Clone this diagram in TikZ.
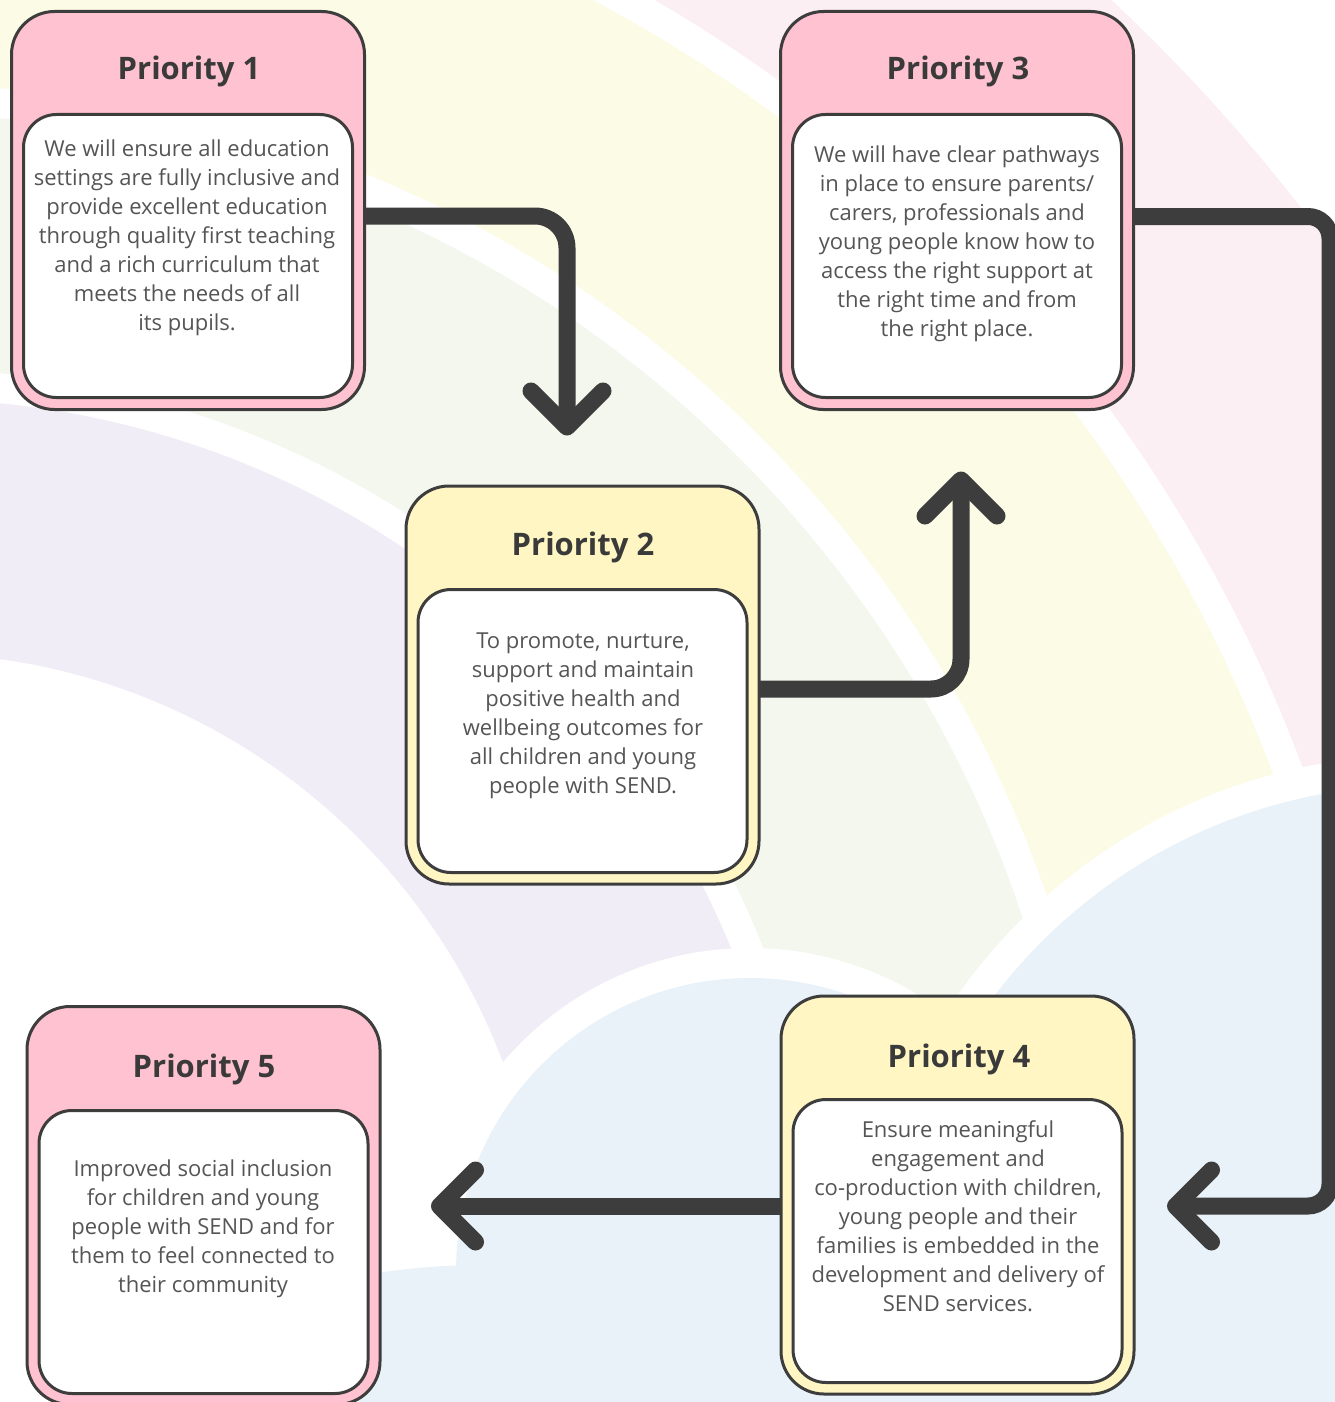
\documentclass[tikz,border=0pt]{standalone}
\usepackage{fontspec}
\setmainfont{Open Sans}
\usetikzlibrary{calc}
\definecolor{ink}{HTML}{3D3D3D}
\definecolor{titlec}{HTML}{3A3A3A}
\definecolor{bodyc}{HTML}{555555}
\definecolor{pinkbox}{HTML}{FFC2D0}
\definecolor{yellowbox}{HTML}{FFF6C3}
\definecolor{bandpink}{HTML}{FCEFF4}
\definecolor{bandyellow}{HTML}{FCFBE6}
\definecolor{bandgreen}{HTML}{F4F7EE}
\definecolor{bandpurple}{HTML}{F1EDF7}
\definecolor{cloudblue}{HTML}{EAF2F9}
\begin{document}
\begin{tikzpicture}[x=1pt,y=-1pt,
  outerbox/.style={draw=ink, line width=3pt, rounded corners=43pt, minimum width=353pt, minimum height=398pt, inner sep=0pt, outer sep=0pt},
  innerbox/.style={draw=ink, fill=white, line width=3pt, rounded corners=33pt, minimum width=329pt, minimum height=283pt, inner sep=0pt, outer sep=0pt},
  ptitle/.style={font=\bfseries\fontsize{31}{37}\selectfont, text=titlec, anchor=base, inner sep=0pt},
  ptext/.style={font=\fontsize{22}{29}\selectfont, text=bodyc, align=center, inner sep=0pt},
  conn/.style={draw=ink, line width=17pt},
  tipline/.style={draw=ink, line width=17pt, line cap=round, line join=round},
]
\useasboundingbox (0,0) rectangle (1335,1402);
% background rainbow and cloud
\begin{scope}
\clip (0,0) rectangle (1335,1402);
\fill[white] (0,0) rectangle (1335,1402);
\coordinate (rc) at (-88,1284);
\fill[bandpink, even odd rule] (rc) circle[radius=1757pt] circle[radius=1483pt];
\fill[bandyellow, even odd rule] (rc) circle[radius=1453pt] circle[radius=1199pt];
\fill[bandgreen, even odd rule] (rc) circle[radius=1169pt] circle[radius=915pt];
\fill[bandpurple, even odd rule] (rc) circle[radius=885pt] circle[radius=631pt];
\fill[white] (750,1272) circle[radius=324pt] (1420,1320) circle[radius=565pt] (483,1965) circle[radius=730pt];
\fill[cloudblue] (750,1272) circle[radius=294pt] (1420,1320) circle[radius=535pt] (483,1965) circle[radius=700pt];
\end{scope}

% boxes
\node[outerbox, fill=pinkbox] (b1) at (188,210.5) {};
\node[innerbox] (b1in) at (188,256) {};
\node[ptitle] (b1t) at (189,80) {Priority 1};
\node[ptext] (b1x) at (187,238) {We will ensure all education\\settings are fully inclusive and\\provide excellent education\\through quality first teaching\\and a rich curriculum that\\meets the needs of all\\its pupils.};

\node[outerbox, fill=pinkbox] (b3) at (957,210.5) {};
\node[innerbox] (b3in) at (957,256) {};
\node[ptitle] (b3t) at (958,80) {Priority 3};
\node[ptext] (b3x) at (957,244) {We will have clear pathways\\in place to ensure parents/\\carers, professionals and\\young people know how to\\access the right support at\\the right time and from\\the right place.};

\node[outerbox, fill=yellowbox] (b2) at (582.5,685) {};
\node[innerbox] (b2in) at (582.5,731) {};
\node[ptitle] (b2t) at (583,555) {Priority 2};
\node[ptext] (b2x) at (583,716) {To promote, nurture,\\support and maintain\\positive health and\\wellbeing outcomes for\\all children and young\\people with SEND.};

\node[outerbox, fill=yellowbox] (b4) at (957.5,1195) {};
\node[innerbox] (b4in) at (957.5,1241) {};
\node[ptitle] (b4t) at (959,1067) {Priority 4};
\node[ptext] (b4x) at (958,1216) {Ensure meaningful\\engagement and\\co-production with children,\\young people and their\\families is embedded in the\\development and delivery of\\SEND services.};

\node[outerbox, fill=pinkbox] (b5) at (203.5,1205.5) {};
\node[innerbox] (b5in) at (203.5,1252) {};
\node[ptitle] (b5t) at (204,1077) {Priority 5};
\node[ptext] (b5x) at (203,1229) {Improved social inclusion\\for children and young\\people with SEND and for\\them to feel connected to\\their community};

% connectors
\coordinate (tip1) at (567,427);
\coordinate (tip2) at (961,480);
\coordinate (c3) at (1330,1206);
\coordinate (tip3) at (1175.5,1206);
\coordinate (tip4) at (439.5,1206);

\draw[conn, rounded corners=32pt] ($(b1.east)+(0,5.5)$) -| (tip1);
\draw[tipline] ($(tip1)+(-36,-36)$) -- (tip1) -- ($(tip1)+(36,-36)$);

\draw[conn, rounded corners=30pt] ($(b2.east)+(0,4)$) -| (tip2);
\draw[tipline] ($(tip2)+(-36,36)$) -- (tip2) -- ($(tip2)+(36,36)$);

\draw[conn, rounded corners=22pt] ($(b3.east)+(0,6)$) -| (c3) -- (tip3);
\draw[tipline] ($(tip3)+(36,-36)$) -- (tip3) -- ($(tip3)+(36,36)$);

\draw[conn] ($(b4.west)+(0,11)$) -- (tip4);
\draw[tipline] ($(tip4)+(36,-36)$) -- (tip4) -- ($(tip4)+(36,36)$);
\end{tikzpicture}
\end{document}
